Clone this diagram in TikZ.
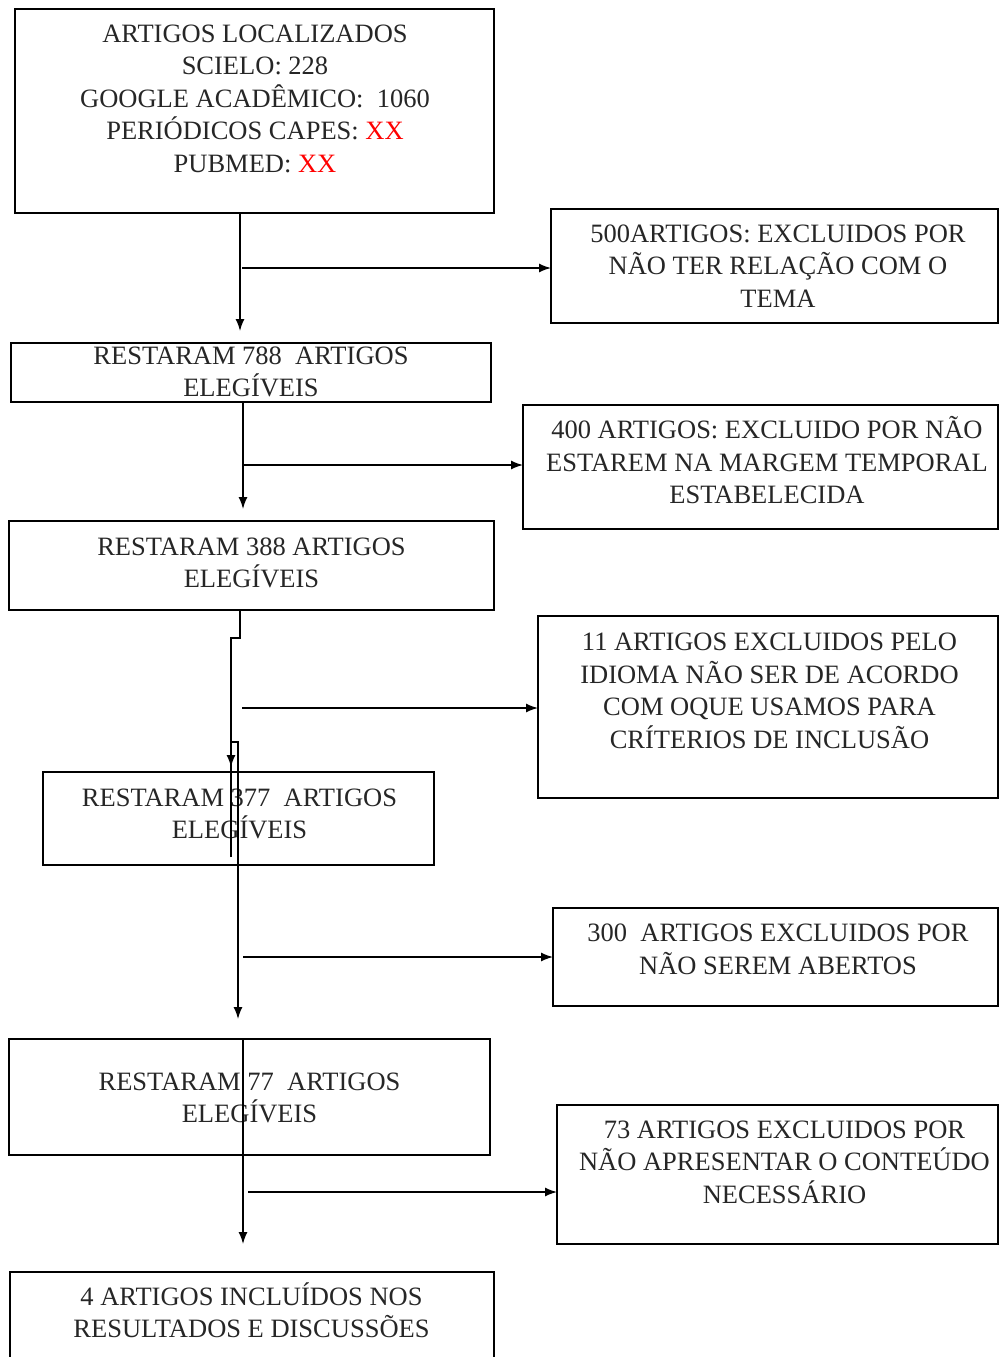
\documentclass[tikz,border=0pt]{standalone}
\usepackage{fontspec}
\setmainfont{Liberation Serif}
\usetikzlibrary{arrows.meta,fit}
\newcommand\myph{\vphantom{ÊÇ}}
\begin{document}
\begin{tikzpicture}[x=1pt,y=-1pt,
  box/.style={draw, line width=1.4pt, inner sep=0pt, outer sep=0pt},
  txt/.style={align=center, inner sep=0pt, font=\fontsize{26.5}{32.5}\selectfont, text=black!85},
  conn/.style={line width=1.4pt},
  arr/.style={conn, -{Latex[length=12pt,width=9pt]}}]
\useasboundingbox (0,0) rectangle (999,1357);
\clip (0,0) rectangle (999,1357);

% boxes
\node[box, fit={(15,9) (494,213)}] (b1) {};
\node[box, fit={(551,209) (998,323)}] (r1) {};
\node[box, fit={(11,343) (491,402)}] (b2) {};
\node[box, fit={(523,405) (998,529)}] (r2) {};
\node[box, fit={(9,521) (494,610)}] (b3) {};
\node[box, fit={(538,616) (998,798)}] (r3) {};
\node[box, fit={(43,772) (434,865)}] (b4) {};
\node[box, fit={(553,908) (998,1006)}] (r4) {};
\node[box, fit={(9,1039) (490,1155)}] (b5) {};
\node[box, fit={(557,1105) (998,1244)}] (r5) {};
\node[box, fit={(10,1272) (494,1400)}] (b6) {};

% texts
\node[txt] (t1) at (255,98.6) {\myph ARTIGOS LOCALIZADOS\\SCIELO: 228\\GOOGLE ACADÊMICO:\ \ 1060\\PERIÓDICOS CAPES: \textcolor{red}{XX}\\PUBMED: \textcolor{red}{XX}\myph};
\node[txt] (tr1) at (778,266) {\myph 500ARTIGOS: EXCLUIDOS POR\\NÃO TER RELAÇÃO COM O\\TEMA\myph};
\node[txt] (t2) at (251,372) {\myph RESTARAM 788\ \ ARTIGOS\\ELEGÍVEIS\myph};
\node[txt] (tr2) at (767,462.5) {\myph 400 ARTIGOS: EXCLUIDO POR NÃO\\ESTAREM NA MARGEM TEMPORAL\\ESTABELECIDA\myph};
\node[txt] (t3) at (251.5,563) {\myph RESTARAM 388 ARTIGOS\\ELEGÍVEIS\myph};
\node[txt] (tr3) at (769.5,691) {\myph 11 ARTIGOS EXCLUIDOS PELO\\IDIOMA NÃO SER DE ACORDO\\COM OQUE USAMOS PARA\\CRÍTERIOS DE INCLUSÃO\myph};
\node[txt] (t4) at (239.5,814) {\myph RESTARAM 377\ \ ARTIGOS\\ELEGÍVEIS\myph};
\node[txt] (tr4) at (778,949.5) {\myph 300\ \ ARTIGOS EXCLUIDOS POR\\NÃO SEREM ABERTOS\myph};
\node[txt] (t5) at (249.5,1098) {\myph RESTARAM 77\ \ ARTIGOS\\ELEGÍVEIS\myph};
\node[txt] (tr5) at (784.5,1162) {\myph 73 ARTIGOS EXCLUIDOS POR\\NÃO APRESENTAR O CONTEÚDO\\NECESSÁRIO\myph};
\node[txt] (t6) at (251.5,1313) {\myph 4 ARTIGOS INCLUÍDOS NOS\\RESULTADOS E DISCUSSÕES\myph};

% connectors
\coordinate (a1) at (240,331);
\coordinate (h1) at (242,268);
\draw[arr] (b1.south -| a1) -- (a1);
\draw[arr] (h1) -- (h1 -| r1.west);

\coordinate (a2) at (243,509);
\coordinate (h2) at (243,465);
\draw[arr] (b2.south -| a2) -- (a2);
\draw[arr] (h2) -- (h2 -| r2.west);

\coordinate (k1) at (240,638);
\coordinate (k2) at (231,638);
\coordinate (a3) at (231,767);
\draw[arr] (b3.south -| k1) -- (k1) -- (k2) -- (a3);
\coordinate (h3) at (242,708);
\draw[arr] (h3) -- (h3 -| r3.west);

\coordinate (m1) at (231,857);
\coordinate (m2) at (231,742);
\coordinate (m3) at (238,742);
\coordinate (a4) at (238,1019);
\draw[arr] (m1) -- (m2) -- (m3) -- (a4);
\coordinate (h4) at (243,957);
\draw[arr] (h4) -- (h4 -| r4.west);

\coordinate (a5) at (243,1244);
\draw[arr] (b5.north -| a5) -- (a5);
\coordinate (h5) at (248,1192);
\draw[arr] (h5) -- (h5 -| r5.west);
\end{tikzpicture}
\end{document}
